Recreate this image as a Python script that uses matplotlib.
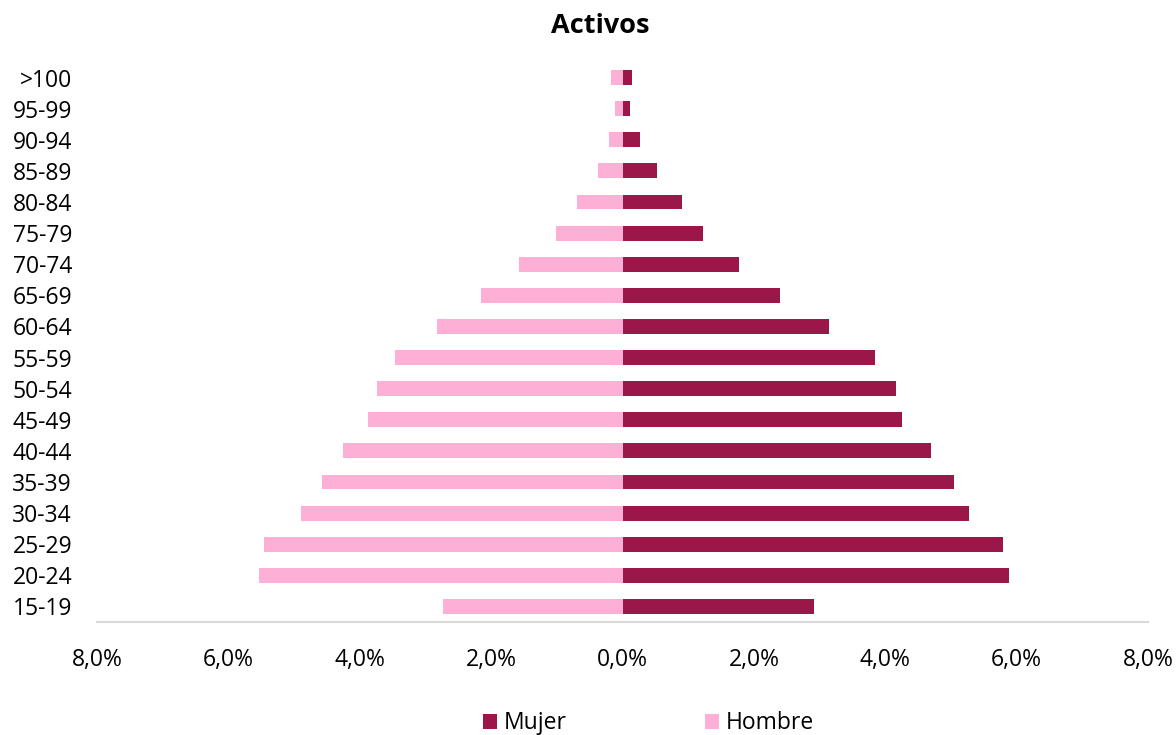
import matplotlib
matplotlib.use("Agg")
import matplotlib.pyplot as plt
from matplotlib.ticker import FuncFormatter
import numpy as np

plt.rcParams['font.family'] = ['Open Sans', 'DejaVu Sans']

categories = ["15-19", "20-24", "25-29", "30-34", "35-39", "40-44", "45-49", "50-54",
              "55-59", "60-64", "65-69", "70-74", "75-79", "80-84", "85-89", "90-94",
              "95-99", ">100"]
mujer = [2.91, 5.88, 5.80, 5.28, 5.04, 4.70, 4.26, 4.16, 3.85, 3.15, 2.39, 1.77,
         1.22, 0.90, 0.52, 0.27, 0.11, 0.15]
hombre = [2.74, 5.54, 5.46, 4.90, 4.57, 4.26, 3.87, 3.74, 3.47, 2.82, 2.15, 1.57,
          1.02, 0.70, 0.37, 0.20, 0.11, 0.17]
xticks = [-8, -6, -4, -2, 0, 2, 4, 6, 8]

c_m = "#9B1749"
c_h = "#FDAFD6"

fig = plt.figure(figsize=(11.76, 7.35), dpi=100)
ax = fig.add_axes([0.0825, 0.1537, 0.8937, 0.7619])
y = np.arange(len(categories))
ax.barh(y, mujer, height=0.48, color=c_m, label="Mujer")
ax.barh(y, [-v for v in hombre], height=0.48, color=c_h, label="Hombre")

ax.set_xlim(-8, 8)
ax.set_ylim(-0.5, len(categories) - 0.5)
ax.set_yticks(y)
ax.set_yticklabels(categories, fontsize=16.5)
ax.set_xticks(xticks)
ax.xaxis.set_major_formatter(FuncFormatter(lambda v, p: f"{abs(v):.1f}%".replace(".", ",")))
ax.tick_params(axis='x', labelsize=16.5, length=0, pad=19)
ax.tick_params(axis='y', length=0, pad=18)
for s in ["top", "right", "left"]:
    ax.spines[s].set_visible(False)
ax.spines["bottom"].set_color("#D9D9D9")
ax.spines["bottom"].set_linewidth(1.5)

fig.text(0.510, 0.964, "Activos", ha="center", va="center", fontsize=19.5, fontweight="bold")

fig.legend(loc="center", bbox_to_anchor=(0.5515, 0.016), ncol=2, frameon=False,
           fontsize=16.5, handlelength=0.62, handleheight=0.62, handletextpad=0.3,
           columnspacing=6.0)

fig.savefig("out.png", dpi=100)
